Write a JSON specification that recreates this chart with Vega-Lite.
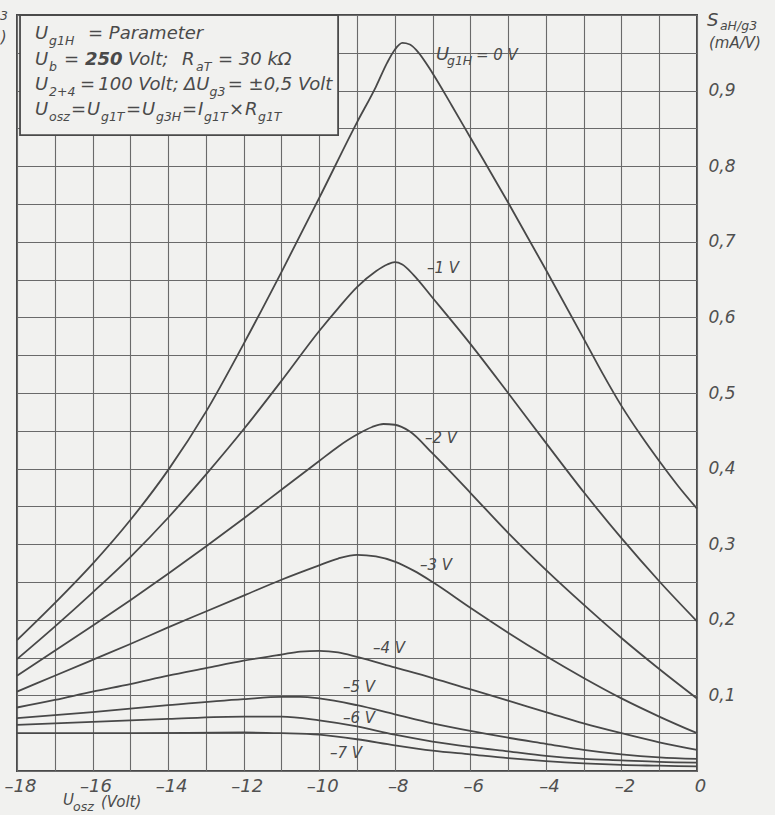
{
  "$schema": "https://vega.github.io/schema/vega-lite/v6.json",
  "width": 680,
  "height": 756,
  "autosize": {"type": "none"},
  "padding": {"left": 17, "top": 15, "right": 78, "bottom": 44},
  "background": "#f1f1ef",
  "config": {
    "view": {"stroke": "#4a4a4a", "strokeWidth": 2},
    "text": {"font": "DejaVu Sans", "fontStyle": "italic", "color": "#4a4a4a", "baseline": "alphabetic", "align": "left"}
  },
  "datasets": {
    "curves": [
      {"s": "0", "x": -18, "y": 0.173}, {"s": "0", "x": -17, "y": 0.222}, {"s": "0", "x": -16, "y": 0.274}, {"s": "0", "x": -15, "y": 0.332}, {"s": "0", "x": -14, "y": 0.398}, {"s": "0", "x": -13, "y": 0.475}, {"s": "0", "x": -12, "y": 0.565}, {"s": "0", "x": -11, "y": 0.66}, {"s": "0", "x": -10, "y": 0.758}, {"s": "0", "x": -9, "y": 0.858}, {"s": "0", "x": -8.5, "y": 0.905}, {"s": "0", "x": -8.2, "y": 0.937}, {"s": "0", "x": -8.0, "y": 0.954}, {"s": "0", "x": -7.8, "y": 0.963}, {"s": "0", "x": -7.6, "y": 0.961}, {"s": "0", "x": -7.4, "y": 0.952}, {"s": "0", "x": -7.0, "y": 0.923}, {"s": "0", "x": -6.5, "y": 0.881}, {"s": "0", "x": -6.0, "y": 0.838}, {"s": "0", "x": -5.0, "y": 0.752}, {"s": "0", "x": -4.0, "y": 0.663}, {"s": "0", "x": -3.0, "y": 0.572}, {"s": "0", "x": -2.5, "y": 0.526}, {"s": "0", "x": -2.0, "y": 0.483}, {"s": "0", "x": -1.5, "y": 0.445}, {"s": "0", "x": -1.0, "y": 0.41}, {"s": "0", "x": -0.5, "y": 0.377}, {"s": "0", "x": 0, "y": 0.347},
      {"s": "1", "x": -18, "y": 0.148}, {"s": "1", "x": -17, "y": 0.191}, {"s": "1", "x": -16, "y": 0.236}, {"s": "1", "x": -15, "y": 0.283}, {"s": "1", "x": -14, "y": 0.335}, {"s": "1", "x": -13, "y": 0.392}, {"s": "1", "x": -12, "y": 0.452}, {"s": "1", "x": -11, "y": 0.516}, {"s": "1", "x": -10, "y": 0.582}, {"s": "1", "x": -9.5, "y": 0.612}, {"s": "1", "x": -9, "y": 0.64}, {"s": "1", "x": -8.5, "y": 0.661}, {"s": "1", "x": -8.2, "y": 0.67}, {"s": "1", "x": -8.0, "y": 0.673}, {"s": "1", "x": -7.8, "y": 0.67}, {"s": "1", "x": -7.5, "y": 0.656}, {"s": "1", "x": -7.0, "y": 0.626}, {"s": "1", "x": -6.0, "y": 0.565}, {"s": "1", "x": -5, "y": 0.5}, {"s": "1", "x": -4, "y": 0.434}, {"s": "1", "x": -3, "y": 0.369}, {"s": "1", "x": -2, "y": 0.308}, {"s": "1", "x": -1, "y": 0.251}, {"s": "1", "x": 0, "y": 0.198},
      {"s": "2", "x": -18, "y": 0.126}, {"s": "2", "x": -17, "y": 0.159}, {"s": "2", "x": -16, "y": 0.192}, {"s": "2", "x": -15, "y": 0.226}, {"s": "2", "x": -14, "y": 0.261}, {"s": "2", "x": -13, "y": 0.297}, {"s": "2", "x": -12, "y": 0.334}, {"s": "2", "x": -11, "y": 0.372}, {"s": "2", "x": -10, "y": 0.41}, {"s": "2", "x": -9.5, "y": 0.429}, {"s": "2", "x": -9, "y": 0.445}, {"s": "2", "x": -8.6, "y": 0.455}, {"s": "2", "x": -8.3, "y": 0.459}, {"s": "2", "x": -8.0, "y": 0.458}, {"s": "2", "x": -7.6, "y": 0.449}, {"s": "2", "x": -7.0, "y": 0.42}, {"s": "2", "x": -6.0, "y": 0.368}, {"s": "2", "x": -5.0, "y": 0.315}, {"s": "2", "x": -4.0, "y": 0.266}, {"s": "2", "x": -3.0, "y": 0.22}, {"s": "2", "x": -2.0, "y": 0.176}, {"s": "2", "x": -1.0, "y": 0.135}, {"s": "2", "x": 0, "y": 0.096},
      {"s": "3", "x": -18, "y": 0.105}, {"s": "3", "x": -17, "y": 0.126}, {"s": "3", "x": -16, "y": 0.147}, {"s": "3", "x": -15, "y": 0.168}, {"s": "3", "x": -14, "y": 0.19}, {"s": "3", "x": -13, "y": 0.211}, {"s": "3", "x": -12, "y": 0.232}, {"s": "3", "x": -11, "y": 0.253}, {"s": "3", "x": -10, "y": 0.272}, {"s": "3", "x": -9.5, "y": 0.281}, {"s": "3", "x": -9, "y": 0.286}, {"s": "3", "x": -8.5, "y": 0.284}, {"s": "3", "x": -8, "y": 0.277}, {"s": "3", "x": -7.5, "y": 0.265}, {"s": "3", "x": -7, "y": 0.25}, {"s": "3", "x": -6, "y": 0.216}, {"s": "3", "x": -5, "y": 0.183}, {"s": "3", "x": -4, "y": 0.152}, {"s": "3", "x": -3, "y": 0.123}, {"s": "3", "x": -2, "y": 0.096}, {"s": "3", "x": -1, "y": 0.072}, {"s": "3", "x": 0, "y": 0.05},
      {"s": "4", "x": -18, "y": 0.084}, {"s": "4", "x": -17, "y": 0.094}, {"s": "4", "x": -16, "y": 0.105}, {"s": "4", "x": -15, "y": 0.115}, {"s": "4", "x": -14, "y": 0.126}, {"s": "4", "x": -13, "y": 0.136}, {"s": "4", "x": -12, "y": 0.146}, {"s": "4", "x": -11, "y": 0.154}, {"s": "4", "x": -10.5, "y": 0.158}, {"s": "4", "x": -10, "y": 0.159}, {"s": "4", "x": -9.5, "y": 0.157}, {"s": "4", "x": -9, "y": 0.151}, {"s": "4", "x": -8, "y": 0.137}, {"s": "4", "x": -7, "y": 0.123}, {"s": "4", "x": -6, "y": 0.108}, {"s": "4", "x": -5, "y": 0.093}, {"s": "4", "x": -4, "y": 0.078}, {"s": "4", "x": -3, "y": 0.063}, {"s": "4", "x": -2, "y": 0.05}, {"s": "4", "x": -1, "y": 0.038}, {"s": "4", "x": 0, "y": 0.028},
      {"s": "5", "x": -18, "y": 0.07}, {"s": "5", "x": -16, "y": 0.078}, {"s": "5", "x": -14, "y": 0.087}, {"s": "5", "x": -12, "y": 0.095}, {"s": "5", "x": -11, "y": 0.098}, {"s": "5", "x": -10.5, "y": 0.098}, {"s": "5", "x": -10, "y": 0.096}, {"s": "5", "x": -9, "y": 0.087}, {"s": "5", "x": -8, "y": 0.075}, {"s": "5", "x": -7, "y": 0.063}, {"s": "5", "x": -6, "y": 0.053}, {"s": "5", "x": -5, "y": 0.044}, {"s": "5", "x": -4, "y": 0.036}, {"s": "5", "x": -3, "y": 0.028}, {"s": "5", "x": -2, "y": 0.022}, {"s": "5", "x": -1, "y": 0.018}, {"s": "5", "x": 0, "y": 0.016},
      {"s": "6", "x": -18, "y": 0.061}, {"s": "6", "x": -16, "y": 0.065}, {"s": "6", "x": -14, "y": 0.069}, {"s": "6", "x": -12, "y": 0.072}, {"s": "6", "x": -11, "y": 0.072}, {"s": "6", "x": -10, "y": 0.067}, {"s": "6", "x": -9, "y": 0.059}, {"s": "6", "x": -8, "y": 0.048}, {"s": "6", "x": -7, "y": 0.039}, {"s": "6", "x": -6, "y": 0.032}, {"s": "6", "x": -5, "y": 0.026}, {"s": "6", "x": -4, "y": 0.02}, {"s": "6", "x": -3, "y": 0.016}, {"s": "6", "x": -2, "y": 0.014}, {"s": "6", "x": -1, "y": 0.012}, {"s": "6", "x": 0, "y": 0.011},
      {"s": "7", "x": -18, "y": 0.05}, {"s": "7", "x": -15, "y": 0.05}, {"s": "7", "x": -12, "y": 0.051}, {"s": "7", "x": -11, "y": 0.05}, {"s": "7", "x": -10, "y": 0.048}, {"s": "7", "x": -9, "y": 0.042}, {"s": "7", "x": -8, "y": 0.034}, {"s": "7", "x": -7, "y": 0.027}, {"s": "7", "x": -6, "y": 0.022}, {"s": "7", "x": -5, "y": 0.017}, {"s": "7", "x": -4, "y": 0.013}, {"s": "7", "x": -3, "y": 0.01}, {"s": "7", "x": -2, "y": 0.008}, {"s": "7", "x": -1, "y": 0.007}, {"s": "7", "x": 0, "y": 0.006}
    ],
    "box": [{"x": -17.92, "x2": -9.5, "y": 0.841, "y2": 1.0}],
    "mainText": [
      {"x": -17.524, "y": 0.9677, "t": "U"}, {"x": -16.121, "y": 0.9677, "t": "= Parameter"},
      {"x": -17.524, "y": 0.9345, "t": "U"}, {"x": -16.756, "y": 0.9345, "t": "="}, {"x": -15.062, "y": 0.9345, "t": "Volt;"}, {"x": -13.633, "y": 0.9345, "t": "R"}, {"x": -12.68, "y": 0.9345, "t": "= 30 kΩ"},
      {"x": -17.524, "y": 0.9013, "t": "U"}, {"x": -16.332, "y": 0.9013, "t": "="}, {"x": -15.85, "y": 0.9013, "t": "100 Volt;"}, {"x": -13.58, "y": 0.9013, "t": "ΔU"}, {"x": -12.42, "y": 0.9013, "t": "= ±0,5 Volt"},
      {"x": -17.524, "y": 0.8681, "t": "U"}, {"x": -16.571, "y": 0.8681, "t": "="}, {"x": -16.147, "y": 0.8681, "t": "U"}, {"x": -15.115, "y": 0.8681, "t": "="}, {"x": -14.691, "y": 0.8681, "t": "U"}, {"x": -13.633, "y": 0.8681, "t": "="}, {"x": -13.209, "y": 0.8681, "t": "I"}, {"x": -12.389, "y": 0.8681, "t": "×"}, {"x": -11.965, "y": 0.8681, "t": "R"},
      {"x": -6.91, "y": 0.9411, "t": "U"},
      {"x": 0.264, "y": 0.985, "t": "S"}
    ],
    "boldText": [{"x": -16.2, "y": 0.9345, "t": "250"}],
    "subText": [
      {"x": -17.153, "y": 0.9597, "t": "g1H"},
      {"x": -17.153, "y": 0.9265, "t": "b"}, {"x": -13.262, "y": 0.9265, "t": "aT"},
      {"x": -17.153, "y": 0.8933, "t": "2+4"}, {"x": -12.905, "y": 0.8933, "t": "g3"},
      {"x": -17.153, "y": 0.8602, "t": "osz"}, {"x": -15.777, "y": 0.8602, "t": "g1T"}, {"x": -14.321, "y": 0.8602, "t": "g3H"}, {"x": -13.05, "y": 0.8602, "t": "g1T"}, {"x": -11.621, "y": 0.8602, "t": "g1T"},
      {"x": -6.618, "y": 0.9345, "t": "g1H"},
      {"x": 0.607, "y": 0.9796, "t": "aH/g3"},
      {"x": -16.518, "y": -0.0523, "t": "osz"},
      {"x": -18.45, "y": 0.994, "t": "3"}
    ],
    "labelText": [
      {"x": -5.851, "y": 0.9411, "t": "= 0 V"},
      {"x": -7.148, "y": 0.6582, "t": "–1 V"},
      {"x": -7.201, "y": 0.4338, "t": "–2 V"},
      {"x": -7.333, "y": 0.2665, "t": "–3 V"},
      {"x": -8.577, "y": 0.1562, "t": "–4 V"},
      {"x": -9.371, "y": 0.1044, "t": "–5 V"},
      {"x": -9.371, "y": 0.0633, "t": "–6 V"},
      {"x": -9.715, "y": 0.0168, "t": "–7 V"},
      {"x": 0.317, "y": 0.9557, "t": "(mA/V)"},
      {"x": -16.782, "y": -0.0456, "t": "U"},
      {"x": -15.777, "y": -0.047, "t": "(Volt)"},
      {"x": -18.43, "y": 0.9637, "t": ")"}
    ]
  },
  "encoding": {
    "x": {
      "field": "x", "type": "quantitative",
      "scale": {"domain": [-18, 0], "nice": false, "zero": false},
      "axis": {
        "title": null,
        "values": [-18, -17, -16, -15, -14, -13, -12, -11, -10, -9, -8, -7, -6, -5, -4, -3, -2, -1, 0],
        "labelExpr": "datum.value % 2 == 0 ? replace(datum.label, '−', '–') : ''",
        "grid": true, "gridColor": "#6a6a6a", "gridWidth": 1.1,
        "ticks": false, "domain": false,
        "labelFont": "DejaVu Sans", "labelFontStyle": "italic", "labelFontSize": 18,
        "labelColor": "#505050", "labelPadding": 6, "labelOffset": 3, "labelOverlap": false, "labelFlush": false
      }
    },
    "y": {
      "field": "y", "type": "quantitative",
      "scale": {"domain": [0, 1], "nice": false, "zero": true},
      "axis": {
        "title": null, "orient": "right",
        "values": [0, 0.05, 0.1, 0.15, 0.2, 0.25, 0.3, 0.35, 0.4, 0.45, 0.5, 0.55, 0.6, 0.65, 0.7, 0.75, 0.8, 0.85, 0.9, 0.95, 1],
        "labelExpr": "(datum.value > 0.07 && datum.value < 0.93 && round(datum.value * 20) % 2 == 0) ? replace(format(datum.value, '.1f'), '.', ',') : ''",
        "grid": true, "gridColor": "#6a6a6a", "gridWidth": 1.1,
        "ticks": false, "domain": false,
        "labelFont": "DejaVu Sans", "labelFontStyle": "italic", "labelFontSize": 17,
        "labelColor": "#505050", "labelPadding": 11, "labelAlign": "left", "labelOverlap": false, "labelFlush": false
      }
    }
  },
  "layer": [
    {
      "data": {"name": "curves"},
      "mark": {"type": "line", "interpolate": "monotone", "color": "#484848", "strokeWidth": 1.8},
      "encoding": {"detail": {"field": "s", "type": "nominal"}}
    },
    {
      "data": {"name": "box"},
      "mark": {"type": "rect", "fill": "#f1f1ef", "stroke": "#4a4a4a", "strokeWidth": 1.8},
      "encoding": {"x2": {"field": "x2"}, "y2": {"field": "y2"}}
    },
    {
      "data": {"name": "mainText"},
      "mark": {"type": "text", "fontSize": 18},
      "encoding": {"text": {"field": "t"}}
    },
    {
      "data": {"name": "boldText"},
      "mark": {"type": "text", "fontSize": 18, "fontWeight": "bold"},
      "encoding": {"text": {"field": "t"}}
    },
    {
      "data": {"name": "subText"},
      "mark": {"type": "text", "fontSize": 12.5},
      "encoding": {"text": {"field": "t"}}
    },
    {
      "data": {"name": "labelText"},
      "mark": {"type": "text", "fontSize": 15},
      "encoding": {"text": {"field": "t"}}
    }
  ]
}
